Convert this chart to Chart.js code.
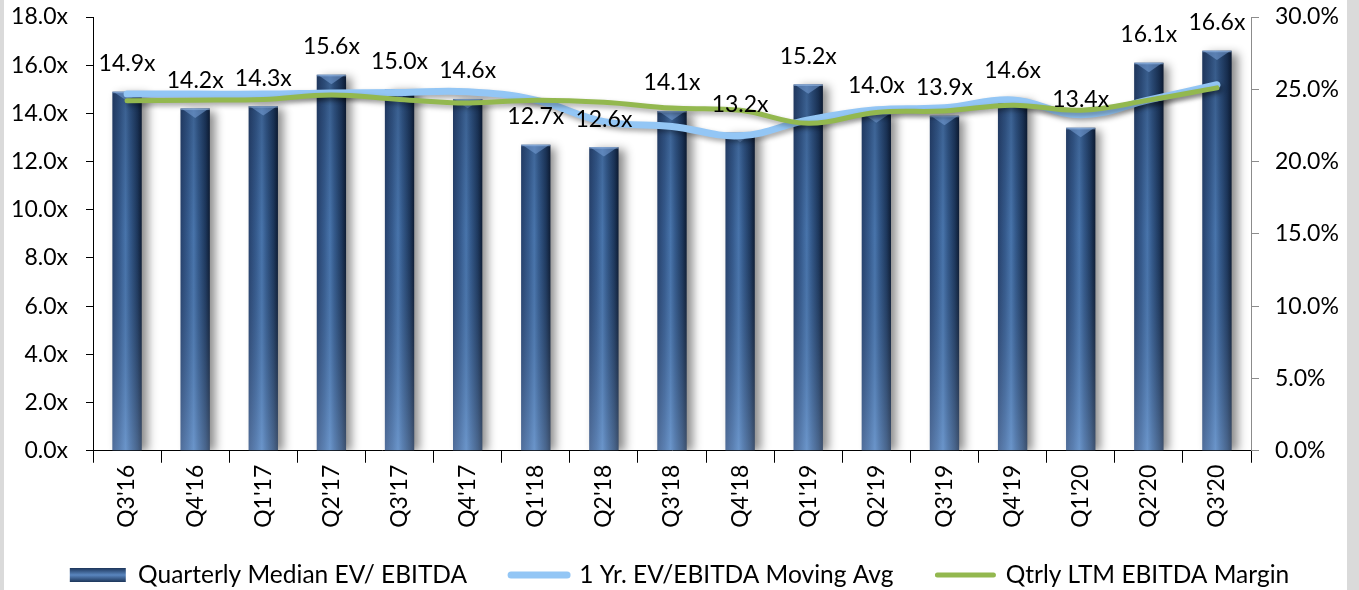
<!DOCTYPE html>
<html>
<head>
<meta charset="utf-8">
<script src="https://cdn.jsdelivr.net/npm/chart.js@4.4.1/dist/chart.umd.min.js"></script>
<style>
  html, body { margin: 0; padding: 0; background: #ffffff; }
  #wrap { position: relative; width: 1359px; height: 590px; overflow: hidden; }
  canvas { display: block; }
  .strip { position: absolute; top: 0; height: 590px; background: #dadada; }
</style>
</head>
<body>
<div id="wrap">
  <canvas id="c" width="1359" height="590"></canvas>
  <div class="strip" style="left:0;width:4px;"></div>
  <div class="strip" style="left:1347px;width:12px;"></div>
</div>
<script>
// ---- data ----
const categories = ["Q3'16","Q4'16","Q1'17","Q2'17","Q3'17","Q4'17","Q1'18","Q2'18","Q3'18","Q4'18","Q1'19","Q2'19","Q3'19","Q4'19","Q1'20","Q2'20","Q3'20"];
const medianEvEbitda = [14.9,14.2,14.3,15.6,15.0,14.6,12.7,12.6,14.1,13.2,15.2,14.0,13.9,14.6,13.4,16.1,16.6];
const movingAvg = [14.8,14.8,14.8,14.85,14.87,14.9,14.55,13.66,13.46,13.07,13.73,14.15,14.23,14.56,13.94,14.56,15.19];
const ebitdaMargin = [24.2,24.25,24.3,24.6,24.3,24.05,24.25,24.1,23.7,23.55,22.65,23.4,23.5,23.9,23.55,24.25,25.1];
const seriesNames = ["Quarterly Median EV/ EBITDA","1 Yr. EV/EBITDA Moving Avg","Qtrly LTM EBITDA Margin"];
const leftTicks = {min: 0, max: 18, step: 2};
const rightTicks = {min: 0, max: 30, step: 5};

const FONT = 'Lato, "Liberation Sans", sans-serif';
const BAR_PCT = 0.43;

function barGradient(ctx) {
  const chart = ctx.chart;
  const area = chart.chartArea;
  if (!area || !chart.scales.x) return '#34598c';
  const xs = chart.scales.x;
  const cx = xs.getPixelForValue(ctx.dataIndex);
  const half = (xs.width / categories.length) * BAR_PCT / 2;
  const g = chart.ctx.createLinearGradient(cx - half, 0, cx + half, 0);
  g.addColorStop(0, '#2a4775');
  g.addColorStop(0.25, '#3b6399');
  g.addColorStop(0.45, '#5080bb');
  g.addColorStop(0.6, '#3a6398');
  g.addColorStop(0.85, '#203c63');
  g.addColorStop(1, '#0f1e36');
  return g;
}

const styling = {
  id: 'styling',
  afterLayout(chart) {
    // let the rotated category labels extend below the axis box without being clipped
    const xs = chart.scales.x;
    xs.bottom = xs.top + 90;
  },
  beforeDatasetDraw(chart, args) {
    const ctx = chart.ctx;
    ctx.save();
    if (args.index === 0) {
      ctx.shadowColor = 'rgba(0,0,0,0.45)';
      ctx.shadowBlur = 9;
      ctx.shadowOffsetX = 6;
      ctx.shadowOffsetY = 2;
    } else {
      ctx.shadowColor = 'rgba(0,0,0,0.35)';
      ctx.shadowBlur = 5;
      ctx.shadowOffsetX = 2;
      ctx.shadowOffsetY = 3;
    }
  },
  afterDatasetDraw(chart, args) {
    const ctx = chart.ctx;
    ctx.restore();
    if (args.index !== 0) return;
    const area = chart.chartArea;
    const meta = args.meta;
    meta.data.forEach(el => {
      const p = el.getProps(['x','y','base','width'], true);
      const l = p.x - p.width / 2, w = p.width, t = p.y, b = p.base;
      const vg = ctx.createLinearGradient(0, area.top, 0, area.bottom);
      vg.addColorStop(0, 'rgba(5,15,35,0.38)');
      vg.addColorStop(0.5, 'rgba(5,15,35,0.1)');
      vg.addColorStop(1, 'rgba(170,200,240,0.3)');
      ctx.save();
      ctx.fillStyle = vg;
      ctx.fillRect(l, t, w, b - t);
      ctx.beginPath();
      ctx.moveTo(l + 1, t);
      ctx.lineTo(l + w - 1, t);
      ctx.lineTo(p.x, t + w * 0.32);
      ctx.closePath();
      ctx.fillStyle = 'rgba(120,160,215,0.55)';
      ctx.fill();
      ctx.fillStyle = 'rgba(150,185,230,0.6)';
      ctx.fillRect(l, t, w, 1.5);
      ctx.restore();
    });
  },
  afterDatasetsDraw(chart) {
    const ctx = chart.ctx;
    const meta = chart.getDatasetMeta(0);
    ctx.save();
    ctx.font = '23px ' + FONT;
    ctx.fillStyle = '#000';
    ctx.textAlign = 'center';
    ctx.textBaseline = 'middle';
    meta.data.forEach((el, i) => {
      const p = el.getProps(['x','y'], true);
      ctx.fillText(medianEvEbitda[i].toFixed(1) + 'x', p.x, p.y - 28);
    });
    ctx.restore();
  }
};

const chart = new Chart(document.getElementById('c'), {
  data: {
    labels: categories,
    datasets: [
      {
        type: 'bar', label: seriesNames[0], data: medianEvEbitda, yAxisID: 'y',
        backgroundColor: barGradient, borderWidth: 0,
        barPercentage: BAR_PCT, categoryPercentage: 1, order: 3
      },
      {
        type: 'line', label: seriesNames[1], data: movingAvg, yAxisID: 'y',
        borderColor: '#93c6f5', borderWidth: 7, pointRadius: 0, tension: 0.4,
        borderCapStyle: 'round', borderJoinStyle: 'round', fill: false, order: 2
      },
      {
        type: 'line', label: seriesNames[2], data: ebitdaMargin, yAxisID: 'y1',
        borderColor: '#93b84f', borderWidth: 5, pointRadius: 0, tension: 0.4,
        borderCapStyle: 'round', borderJoinStyle: 'round', fill: false, order: 1
      }
    ]
  },
  options: {
    responsive: false,
    animation: false,
    events: [],
    layout: { padding: { top: 17, left: 0, right: 0, bottom: -7.25 } },
    plugins: {
      tooltip: { enabled: false },
      legend: {
        position: 'bottom',
        labels: {
          font: { family: FONT, size: 24.5 },
          color: '#000',
          usePointStyle: true,
          pointStyleWidth: 56,
          boxHeight: 14,
          padding: 44,
          generateLabels(chart) {
            const g = chart.ctx.createLinearGradient(0, 568, 0, 582);
            g.addColorStop(0, '#1c355a');
            g.addColorStop(0.5, '#5a86bf');
            g.addColorStop(1, '#1c355a');
            return chart.data.datasets.map((ds, i) => ({
              text: ds.label,
              datasetIndex: i,
              fillStyle: i === 0 ? g : ds.borderColor,
              strokeStyle: i === 0 ? '#34598c' : ds.borderColor,
              lineWidth: i === 0 ? 0 : ds.borderWidth,
              lineCap: 'round',
              pointStyle: i === 0 ? 'rect' : 'line',
              hidden: !chart.isDatasetVisible(i),
              fontColor: '#000'
            }));
          }
        }
      }
    },
    scales: {
      x: {
        offset: true,
        grid: { display: true, offset: true, drawOnChartArea: false, drawTicks: true, tickLength: 12, color: '#000', lineWidth: 1 },
        border: { display: true, color: '#000', width: 1 },
        ticks: { font: { family: FONT, size: 23 }, color: '#000', maxRotation: 90, minRotation: 90, padding: 2, autoSkip: false },
        afterFit(s) { s.height = 68; }
      },
      y: {
        position: 'left',
        min: leftTicks.min, max: leftTicks.max,
        grid: { display: true, drawOnChartArea: false, drawTicks: true, tickLength: 7, color: '#000' },
        border: { display: true, color: '#000', width: 1 },
        ticks: { stepSize: leftTicks.step, font: { family: FONT, size: 23 }, color: '#000', padding: 18,
                 callback: v => v.toFixed(1) + 'x' },
        afterFit(s) { s.width = 93; s.paddingTop = 0; s.paddingBottom = 0; }
      },
      y1: {
        position: 'right',
        min: rightTicks.min, max: rightTicks.max,
        grid: { display: true, drawOnChartArea: false, drawTicks: true, tickLength: 8, color: '#8c8c8c' },
        border: { display: true, color: '#8c8c8c', width: 1 },
        ticks: { stepSize: rightTicks.step, font: { family: FONT, size: 23 }, color: '#000', padding: 16,
                 callback: v => v.toFixed(1) + '%' },
        afterFit(s) { s.width = 108; s.paddingTop = 0; s.paddingBottom = 0; }
      }
    }
  },
  plugins: [styling]
});
</script>
</body>
</html>
